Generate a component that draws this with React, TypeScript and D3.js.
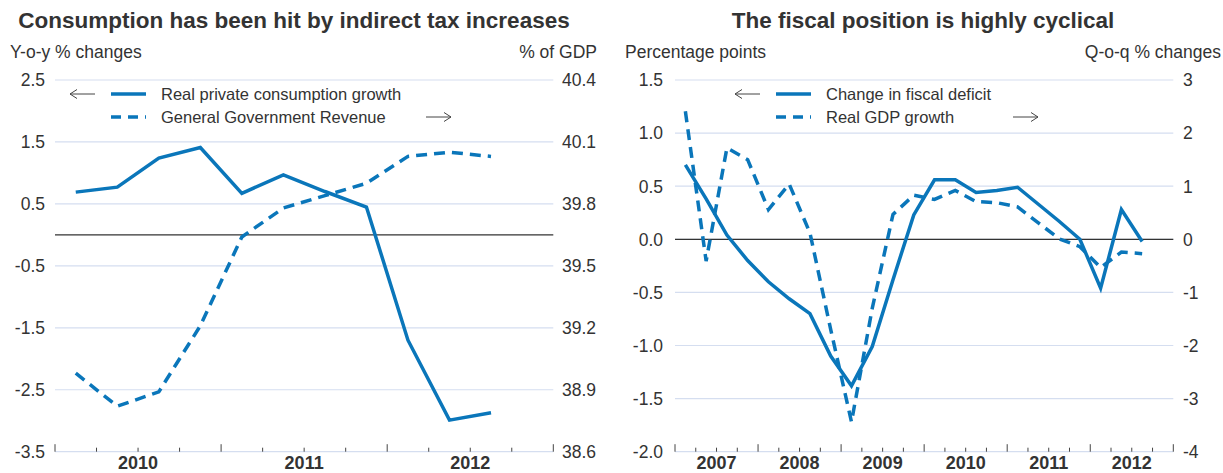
import React from 'react';
import * as d3 from 'd3';

// ---------- Data ----------
const leftQuarters = ['2010Q1','2010Q2','2010Q3','2010Q4','2011Q1','2011Q2','2011Q3','2011Q4','2012Q1','2012Q2','2012Q3'];
const consumptionGrowth = [0.69, 0.77, 1.24, 1.41, 0.67, 0.97, 0.70, 0.45, -1.70, -2.99, -2.87];
const govRevenue = [38.98, 38.82, 38.89, 39.21, 39.64, 39.78, 39.84, 39.90, 40.03, 40.05, 40.03];
const leftYears = ['2010', '2011', '2012'];
const leftTicksL = [2.5, 1.5, 0.5, -0.5, -1.5, -2.5, -3.5];
const leftTicksR = [40.4, 40.1, 39.8, 39.5, 39.2, 38.9, 38.6];

const rightQuarters = [
  '2007Q1','2007Q2','2007Q3','2007Q4','2008Q1','2008Q2','2008Q3','2008Q4',
  '2009Q1','2009Q2','2009Q3','2009Q4','2010Q1','2010Q2','2010Q3','2010Q4',
  '2011Q1','2011Q2','2011Q3','2011Q4','2012Q1','2012Q2','2012Q3'];
const fiscalDeficitChange = [0.70, 0.38, 0.04, -0.20, -0.40, -0.56, -0.70, -1.10, -1.38, -1.01, -0.38, 0.23, 0.56, 0.56, 0.44, 0.46, 0.49, 0.33, 0.17, 0.00, -0.46, 0.28, -0.02];
const realGdpGrowth = [2.41, -0.41, 1.72, 1.50, 0.56, 1.04, 0.12, -1.70, -3.44, -1.30, 0.47, 0.83, 0.75, 0.92, 0.71, 0.69, 0.61, 0.31, 0.01, -0.14, -0.53, -0.24, -0.27];
const rightYears = ['2007', '2008', '2009', '2010', '2011', '2012'];
const rightTicksL = [1.5, 1.0, 0.5, 0.0, -0.5, -1.0, -1.5, -2.0];
const rightTicksR = [3, 2, 1, 0, -1, -2, -3, -4];

const titles = ['Consumption has been hit by indirect tax increases', 'The fiscal position is highly cyclical'];
const axisTitles = [['Y-o-y % changes', '% of GDP'], ['Percentage points', 'Q-o-q % changes']];
const legendLeft = ['Real private consumption growth', 'General Government Revenue'];
const legendRight = ['Change in fiscal deficit', 'Real GDP growth'];

// ---------- Styles ----------
const FONT = '"Liberation Sans", Arial, Helvetica, sans-serif';
const BLUE = '#0a76ba';
const TEXT = '#333333';
const GRID = '#d5def0';
const LW = 3.5;
const DASH = '11,7';

type PanelProps = {
  x0: number; x1: number; top: number; bottom: number;
  years: string[]; nQ: number;
  ticksL: number[]; ticksR: number[]; decL: number; decR: number;
  domL: [number, number]; domR: [number, number];
  solid: number[]; dashed: number[];
  title: string; titleX: number; axisT: string[]; axisTLx: number; axisTRx: number;
  lblLx: number; lblRx: number;
  legend: string[]; legX: number; arrowRX: number;
};

function Arrow({ x1, x2, y, dir }: { x1: number; x2: number; y: number; dir: 'l' | 'r' }) {
  const tip = dir === 'l' ? x1 : x2;
  const back = dir === 'l' ? tip + 7 : tip - 7;
  return (
    <g stroke="#444" strokeWidth={1} fill="none">
      <line x1={x1} x2={x2} y1={y} y2={y} />
      <polyline points={`${back},${y - 4.5} ${tip},${y} ${back},${y + 4.5}`} />
    </g>
  );
}

function Panel(p: PanelProps) {
  const x = d3.scaleLinear().domain([0, p.nQ]).range([p.x0, p.x1]);
  const yL = d3.scaleLinear().domain(p.domL).range([p.bottom, p.top]);
  const yR = d3.scaleLinear().domain(p.domR).range([p.bottom, p.top]);
  const solidLine = d3.line<number>().x((_, i) => x(i + 0.5)).y(d => yL(d));
  const dashedLine = d3.line<number>().x((_, i) => x(i + 0.5)).y(d => yR(d));
  const qTicks = d3.range(0, p.nQ + 1);
  const lx = p.legX;
  return (
    <g>
      <text x={p.titleX} y={28} textAnchor="middle" fontWeight="bold" fontSize={22.5} fill={TEXT}>{p.title}</text>
      <text x={p.axisTLx} y={58} fontSize={17.5} fill={TEXT}>{p.axisT[0]}</text>
      <text x={p.axisTRx} y={58} fontSize={17.5} fill={TEXT} textAnchor="end">{p.axisT[1]}</text>
      {p.ticksL.map((t, i) => (
        <g key={'g' + i}>
          <line x1={p.x0} x2={p.x1} y1={yL(t)} y2={yL(t)} stroke={GRID} strokeWidth={1.2} />
          <text x={p.lblLx} y={yL(t)} dy="0.36em" textAnchor="end" fontSize={17.5} fill={TEXT}>{t.toFixed(p.decL)}</text>
          <text x={p.lblRx} y={yR(p.ticksR[i])} dy="0.36em" fontSize={17.5} fill={TEXT}>{p.ticksR[i].toFixed(p.decR)}</text>
        </g>
      ))}
      <line x1={p.x0} x2={p.x1} y1={yL(0)} y2={yL(0)} stroke="#333" strokeWidth={1.2} />
      {qTicks.map(q => (
        <line key={'q' + q} x1={x(q)} x2={x(q)} y1={p.bottom} y2={p.bottom - (q % 4 === 0 ? 7.5 : 4)} stroke="#444" strokeWidth={1} />
      ))}
      {p.years.map((yr, i) => (
        <text key={yr} x={x(i * 4 + 2)} y={469} textAnchor="middle" fontWeight="bold" fontSize={18} fill={TEXT}>{yr}</text>
      ))}
      <path d={dashedLine(p.dashed) || ''} fill="none" stroke={BLUE} strokeWidth={LW} strokeDasharray={DASH} strokeLinejoin="miter" />
      <path d={solidLine(p.solid) || ''} fill="none" stroke={BLUE} strokeWidth={LW} strokeLinejoin="miter" />
      {/* legend */}
      <Arrow x1={lx - 41} x2={lx - 16} y={94} dir="l" />
      <line x1={lx} x2={lx + 35} y1={94} y2={94} stroke={BLUE} strokeWidth={LW} />
      <text x={lx + 50} y={94} dy="0.36em" fontSize={16.5} fill={TEXT}>{p.legend[0]}</text>
      <line x1={lx} x2={lx + 35} y1={117} y2={117} stroke={BLUE} strokeWidth={LW} strokeDasharray="10,7" />
      <text x={lx + 50} y={117} dy="0.36em" fontSize={16.5} fill={TEXT}>{p.legend[1]}</text>
      <Arrow x1={p.arrowRX} x2={p.arrowRX + 25} y={117} dir="r" />
    </g>
  );
}

export default function App() {
  return (
    <svg width={1223} height={473} style={{ position: 'absolute', left: 0, top: 0, background: '#fff' }} fontFamily={FONT}>
      <rect x={0} y={0} width={1223} height={473} fill="#fff" />
      <Panel
        x0={55} x1={553.3} top={80} bottom={451.7}
        years={leftYears} nQ={12}
        ticksL={leftTicksL} ticksR={leftTicksR} decL={1} decR={1}
        domL={[-3.5, 2.5]} domR={[38.6, 40.4]}
        solid={consumptionGrowth} dashed={govRevenue}
        title={titles[0]} titleX={294} axisT={axisTitles[0]} axisTLx={10} axisTRx={597}
        lblLx={45} lblRx={562}
        legend={legendLeft} legX={111} arrowRX={426}
      />
      <Panel
        x0={675} x1={1173.3} top={80} bottom={451.7}
        years={rightYears} nQ={24}
        ticksL={rightTicksL} ticksR={rightTicksR} decL={1} decR={0}
        domL={[-2, 1.5]} domR={[-4, 3]}
        solid={fiscalDeficitChange} dashed={realGdpGrowth}
        title={titles[1]} titleX={923} axisT={axisTitles[1]} axisTLx={625} axisTRx={1221}
        lblLx={663} lblRx={1183}
        legend={legendRight} legX={776} arrowRX={1013}
      />
    </svg>
  );
}
